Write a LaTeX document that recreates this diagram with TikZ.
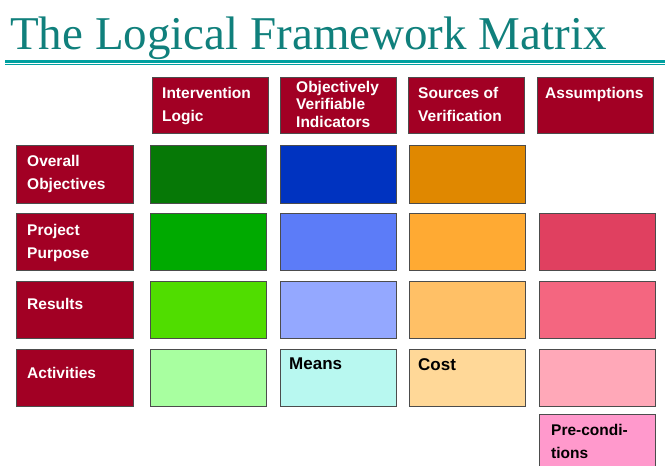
\documentclass[tikz,border=0pt]{standalone}
\usepackage{fontspec}
\setmainfont{Liberation Serif}
\setsansfont{Liberation Sans}

\definecolor{lfmteal}{RGB}{16,128,124}
\definecolor{lfmline}{RGB}{0,160,160}
\definecolor{lfmred}{RGB}{162,0,36}
% intervention logic
\definecolor{ilA}{RGB}{6,120,6}
\definecolor{ilB}{RGB}{0,170,0}
\definecolor{ilC}{RGB}{80,221,0}
\definecolor{ilD}{RGB}{168,255,160}
% indicators
\definecolor{oviA}{RGB}{0,51,192}
\definecolor{oviB}{RGB}{92,124,248}
\definecolor{oviC}{RGB}{148,168,255}
\definecolor{oviD}{RGB}{184,248,240}
% sources
\definecolor{svA}{RGB}{224,136,0}
\definecolor{svB}{RGB}{255,170,51}
\definecolor{svC}{RGB}{255,192,102}
\definecolor{svD}{RGB}{255,216,152}
% assumptions
\definecolor{asB}{RGB}{224,64,96}
\definecolor{asC}{RGB}{244,102,128}
\definecolor{asD}{RGB}{255,168,184}
\definecolor{preco}{RGB}{255,153,204}

\tikzset{
  cell/.style={draw=black!70, line width=0.8pt, inner sep=0pt, anchor=north west,
    minimum width=116pt, minimum height=57pt},
  headcell/.style={cell, fill=lfmred},
  celltext/.style={anchor=north west, inner sep=0pt, align=left,
    font=\sffamily\bfseries\fontsize{15.5}{23}\selectfont},
  whitetext/.style={celltext, text=white},
  bigtext/.style={celltext, font=\sffamily\bfseries\fontsize{17}{21}\selectfont},
}

\begin{document}
\begin{tikzpicture}[x=1pt,y=-1pt]
  \useasboundingbox (0,0) rectangle (665,466);

  % title
  \node[anchor=base west, inner sep=0pt, text=lfmteal,
    font=\fontsize{47}{50}\selectfont] (title) at (10,49) {The Logical Framework Matrix};
  \draw[lfmline, line width=3pt] (5,61.5) -- (665,61.5);
  \draw[lfmline, line width=1pt] (5,64.5) -- (665,64.5);

  % column heads
  \node[headcell, minimum height=56pt] (hil) at (152,77) {};
  \node[headcell, minimum height=56pt] (hovi) at (280,77) {};
  \node[headcell, minimum height=56pt] (hsv) at (408,77) {};
  \node[headcell, minimum height=56pt] (has) at (537,77) {};
  \node[whitetext] (til) at (162,87) {Intervention\\Logic};
  \node[whitetext, font=\sffamily\bfseries\fontsize{15.5}{17.5}\selectfont] (tovi) at (296,81) {Objectively\\Verifiable\\Indicators};
  \node[whitetext] (tsv) at (418,87) {Sources of\\Verification};
  \node[whitetext] (tas) at (545,87) {Assumptions};

  % row heads
  \node[headcell, minimum width=117pt, minimum height=58pt] (rov) at (16,145) {};
  \node[headcell, minimum width=117pt] (rpp) at (16,213) {};
  \node[headcell, minimum width=117pt] (rres) at (16,281) {};
  \node[headcell, minimum width=117pt] (ract) at (16,349) {};
  \node[whitetext] (tov) at (27,155) {Overall\\Objectives};
  \node[whitetext] (tpp) at (27,224) {Project\\Purpose};
  \node[whitetext] (tres) at (27,298) {Results};
  \node[whitetext] (tact) at (27,367) {Activities};

  % overall objectives
  \node[cell, fill=ilA, minimum height=58pt] (ovil) at (150,145) {};
  \node[cell, fill=oviA, minimum height=58pt] (ovovi) at (280,145) {};
  \node[cell, fill=svA, minimum height=58pt] (ovsv) at (409,145) {};

  % project purpose
  \node[cell, fill=ilB] (ppil) at (150,213) {};
  \node[cell, fill=oviB] (ppovi) at (280,213) {};
  \node[cell, fill=svB] (ppsv) at (409,213) {};
  \node[cell, fill=asB] (ppas) at (539,213) {};

  % results
  \node[cell, fill=ilC] (resil) at (150,281) {};
  \node[cell, fill=oviC] (resovi) at (280,281) {};
  \node[cell, fill=svC] (ressv) at (409,281) {};
  \node[cell, fill=asC] (resas) at (539,281) {};

  % activities
  \node[cell, fill=ilD] (actil) at (150,349) {};
  \node[cell, fill=oviD] (actovi) at (280,349) {};
  \node[cell, fill=svD] (actsv) at (409,349) {};
  \node[cell, fill=asD] (actas) at (539,349) {};
  \node[bigtext] (tmeans) at (289,358) {Means};
  \node[bigtext] (tcost) at (418,358) {Cost};

  % pre-conditions
  \node[cell, fill=preco, minimum height=60pt] (pre) at (539,414) {};
  \node[celltext] (tpre) at (551,424) {Pre-condi-\\tions};
\end{tikzpicture}
\end{document}
